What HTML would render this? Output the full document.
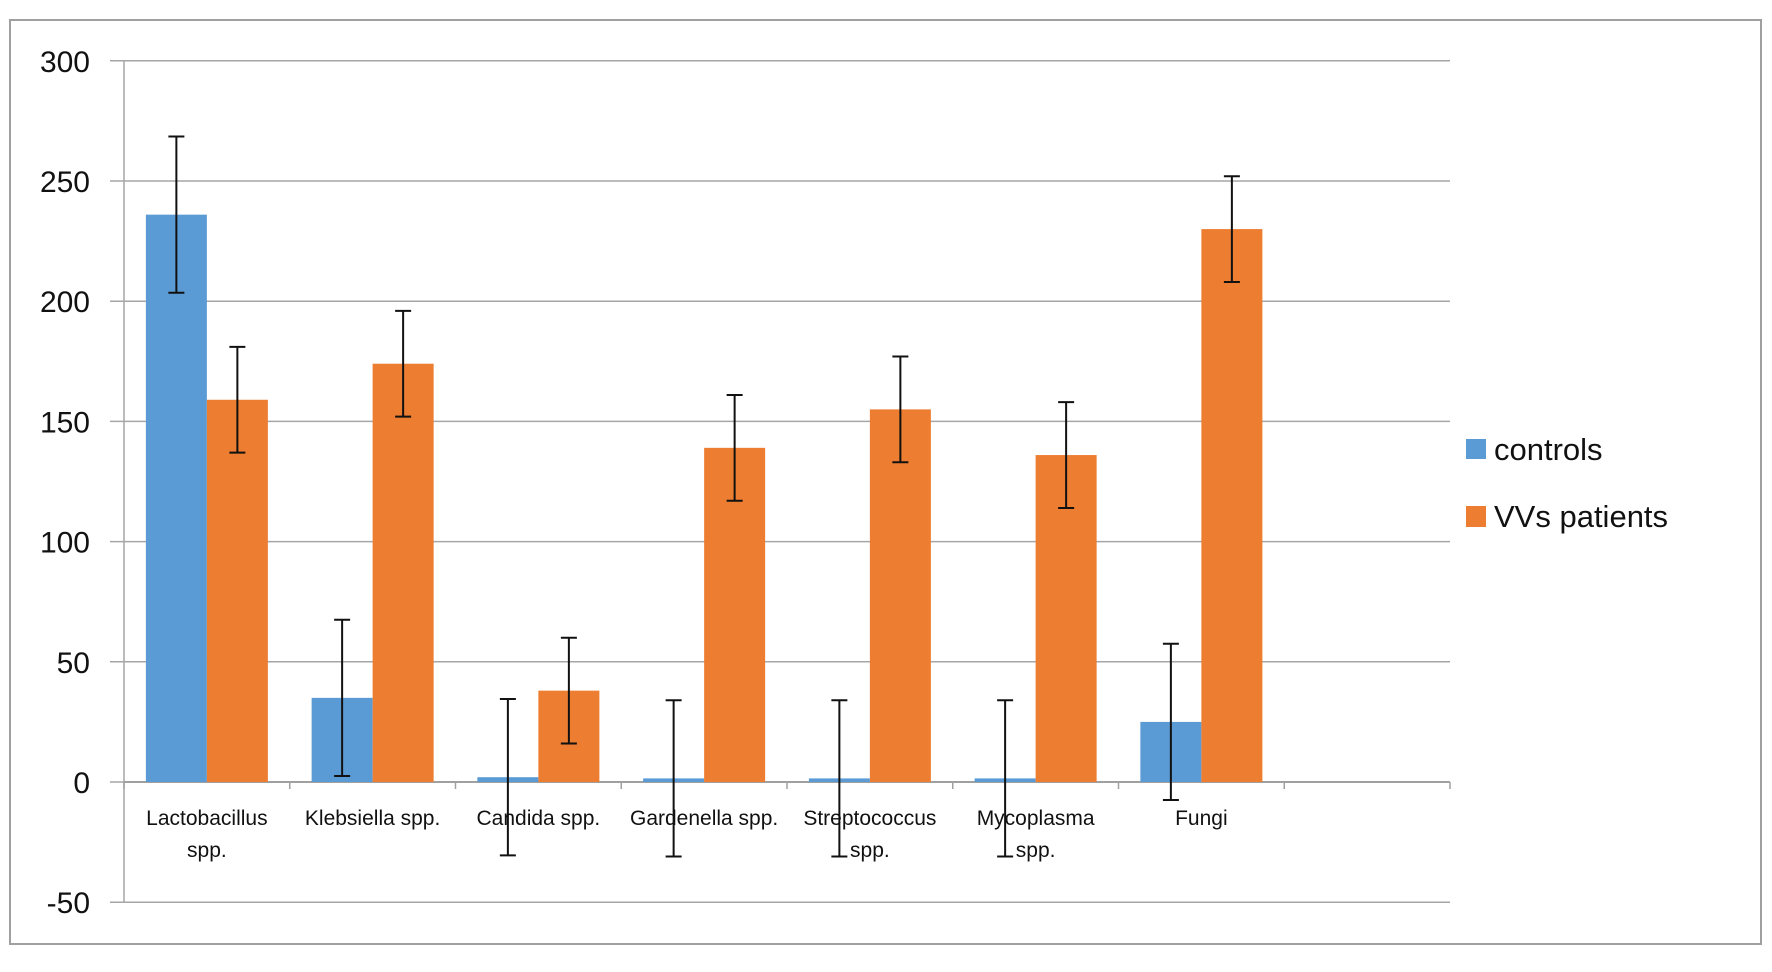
<!DOCTYPE html>
<html><head><meta charset="utf-8"><style>
body{margin:0;background:#fff;width:1772px;height:967px;overflow:hidden}
svg text{font-family:"Liberation Sans",sans-serif}
</style></head><body>
<svg id="chart" width="1772" height="967" xmlns="http://www.w3.org/2000/svg">
<rect x="10" y="20" width="1751" height="924" fill="#fff" stroke="#a0a0a0" stroke-width="2"/>
<g id="grid"></g><g id="bars"></g><g id="labels"></g>
<g>
<rect x="1466" y="439" width="20" height="20" fill="#5b9bd5"/>
<text x="1494" y="460" font-size="31" fill="#111">controls</text>
<rect x="1466" y="506" width="20" height="21" fill="#ed7d31"/>
<text x="1494" y="527" font-size="31" fill="#111">VVs patients</text>
</g>
</svg>
<script>
const categories=[["Lactobacillus","spp."],["Klebsiella spp."],["Candida spp."],["Gardenella spp."],["Streptococcus","spp."],["Mycoplasma","spp."],["Fungi"]];
const controls=[236,35,2,1.5,1.5,1.5,25];
const controlsErr=[32.5,32.5,32.5,32.5,32.5,32.5,32.5];
const patients=[159,174,38,139,155,136,230];
const patientsErr=[22,22,22,22,22,22,22];
const yTicks=[-50,0,50,100,150,200,250,300];
const NS="http://www.w3.org/2000/svg";
const L=124,R=1450,slots=8,sw=(R-L)/slots;
function y(v){return 782-(v/50)*120.2;}
function mk(p,t,a){const e=document.createElementNS(NS,t);for(const k in a)e.setAttribute(k,a[k]);p.appendChild(e);return e;}
const g=document.getElementById('grid'),b=document.getElementById('bars'),lb=document.getElementById('labels');
yTicks.forEach(v=>{
 const ln=mk(g,'line',{x1:L-14,x2:R,y1:y(v),y2:y(v),stroke:'#a6a6a6','stroke-width':1.5});
 
 
 const t=mk(g,'text',{x:90,y:y(v)+11,'font-size':30,'text-anchor':'end',fill:'#111'});
 t.textContent=v;
 
 
});
const ax=mk(g,'line',{x1:L,x2:L,y1:y(300),y2:y(-50),stroke:'#a6a6a6','stroke-width':1.5});


const xa=mk(g,'line',{x1:L,x2:R,y1:y(0),y2:y(0),stroke:'#a0a0a0','stroke-width':2});


for(let i=0;i<=slots;i++){const tk=mk(g,'line',{x1:L+i*sw,x2:L+i*sw,y1:y(0),y2:y(0)+7,stroke:'#a0a0a0','stroke-width':1.5});
 
 }
const bw=61;
function err(cx,v,e){
 const eg=mk(b,'g',{stroke:'#111','stroke-width':2});
 
 
 mk(eg,'line',{x1:cx,x2:cx,y1:y(v+e),y2:y(v-e)});
 mk(eg,'line',{x1:cx-8,x2:cx+8,y1:y(v+e),y2:y(v+e)});
 mk(eg,'line',{x1:cx-8,x2:cx+8,y1:y(v-e),y2:y(v-e)});
}
categories.forEach((c,i)=>{
 const cx=L+sw*(i+0.5);
 const r1=mk(b,'rect',{x:cx-bw,y:y(controls[i]),width:bw,height:y(0)-y(controls[i]),fill:'#5b9bd5'});
 
 
 const r2=mk(b,'rect',{x:cx,y:y(patients[i]),width:bw,height:y(0)-y(patients[i]),fill:'#ed7d31'});
 
 
 err(cx-bw/2,controls[i],controlsErr[i]);
 err(cx+bw/2,patients[i],patientsErr[i]);
 c.forEach((line,j)=>{
  const t=mk(lb,'text',{x:cx,y:825+j*32,'font-size':21,'text-anchor':'middle',fill:'#111'});
  t.textContent=line;
  
  
 });
});
</script>
</body></html>
